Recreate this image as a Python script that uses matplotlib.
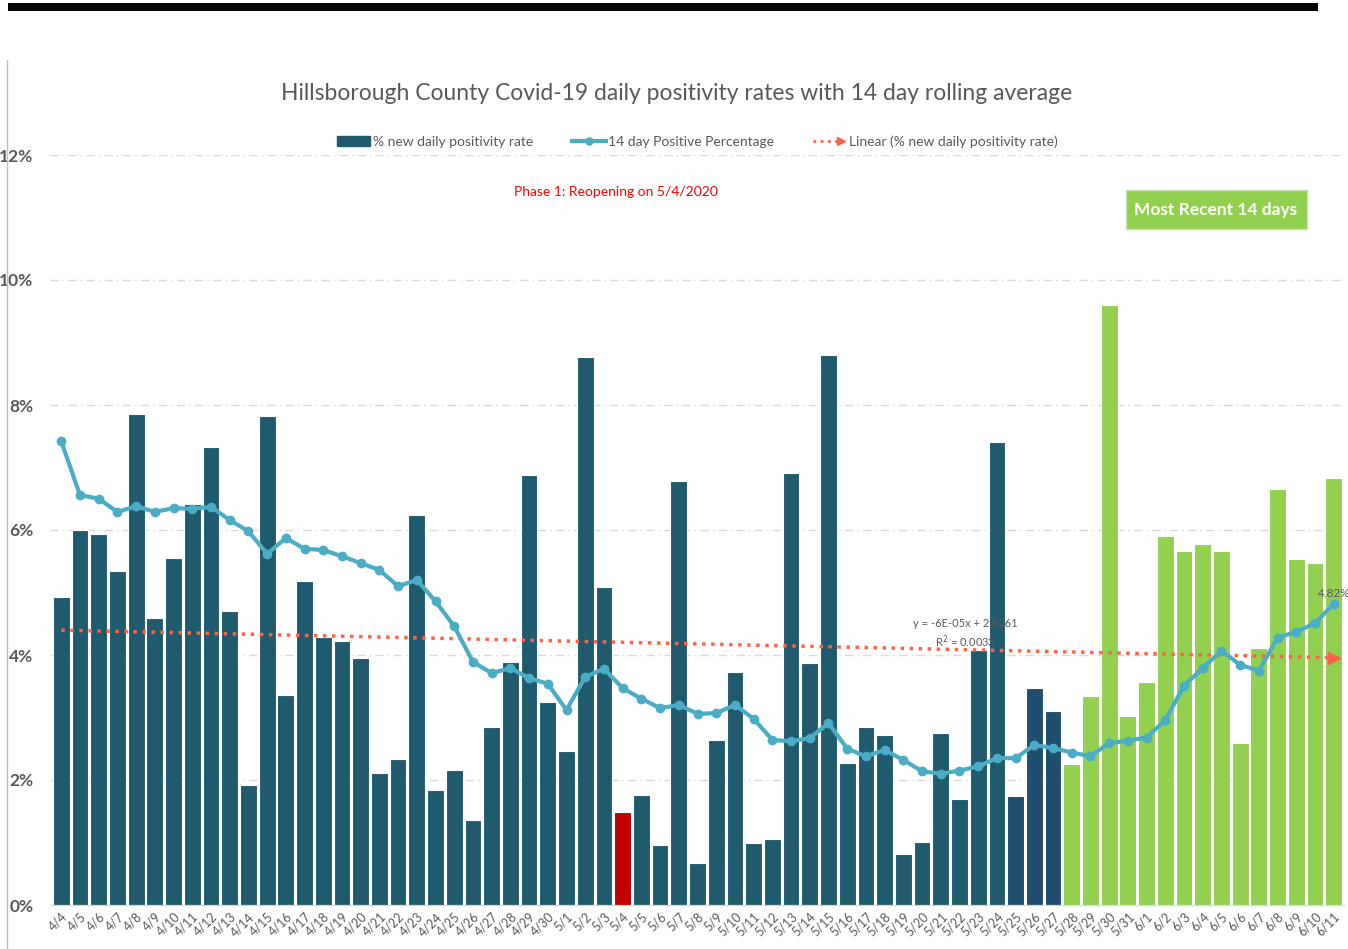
import numpy as np
import pandas as pd
import matplotlib
matplotlib.use("Agg")
import matplotlib.pyplot as plt
from matplotlib import font_manager
from matplotlib.lines import Line2D
from matplotlib.patches import Rectangle
from matplotlib.legend_handler import HandlerBase

# daily % new positivity rate, 4/4 .. 6/11
daily = [4.93, 6.00, 5.94, 5.34, 7.86, 4.59, 5.55, 6.42, 7.33, 4.70,
         1.92, 7.82, 3.36, 5.18, 4.29, 4.22, 3.95, 2.11, 2.34, 6.24,
         1.84, 2.16, 1.36, 2.85, 3.89, 6.88, 3.25, 2.46, 8.77, 5.09,
         1.49, 1.76, 0.96, 6.78, 0.67, 2.64, 3.73, 0.99, 1.06, 6.91,
         3.87, 8.80, 2.27, 2.85, 2.72, 0.81, 1.01, 2.76, 1.69, 4.08,
         7.40, 1.74, 3.47, 3.11, 2.26, 3.35, 9.60, 3.03, 3.57, 5.90,
         5.67, 5.77, 5.66, 2.60, 4.12, 6.66, 5.53, 5.47, 6.84]

# 14 day positive percentage
rolling = [7.42, 6.56, 6.50, 6.29, 6.38, 6.29, 6.35, 6.34, 6.37, 6.16,
           5.98, 5.62, 5.87, 5.70, 5.68, 5.58, 5.47, 5.36, 5.10, 5.20,
           4.86, 4.46, 3.89, 3.71, 3.79, 3.63, 3.54, 3.12, 3.65, 3.78,
           3.47, 3.30, 3.15, 3.20, 3.06, 3.07, 3.20, 2.98, 2.64, 2.62,
           2.67, 2.91, 2.50, 2.38, 2.48, 2.32, 2.14, 2.10, 2.15, 2.22,
           2.35, 2.35, 2.56, 2.51, 2.44, 2.38, 2.59, 2.63, 2.68, 2.96,
           3.51, 3.79, 4.07, 3.84, 3.75, 4.28, 4.37, 4.51, 4.82]

dates = pd.date_range("2020-04-04", "2020-06-11")
labels = [f"{d.month}/{d.day}" for d in dates]
reopen_label = "5/4"
darker_labels = ["5/25", "5/26", "5/27"]
recent_start = "5/28"

# font: prefer a narrow face, like the Calibri look of the original
names = {f.name for f in font_manager.fontManager.ttflist}
for fam in ["Liberation Sans Narrow", "Lato", "DejaVu Sans"]:
    if fam in names:
        plt.rcParams['font.family'] = [fam, 'DejaVu Sans']
        break

gray = '#595959'
c_main = '#1F5A6E'
c_dark = '#1F4E6E'
c_red = '#C00000'
c_green = '#92D050'
c_line = '#4BACC6'
c_trend = '#FF6347'

colors = []
i_recent = labels.index(recent_start)
for i, lab in enumerate(labels):
    if lab == reopen_label:
        colors.append(c_red)
    elif lab in darker_labels:
        colors.append(c_dark)
    elif i >= i_recent:
        colors.append(c_green)
    else:
        colors.append(c_main)

fig = plt.figure(figsize=(13.48, 9.49), dpi=100)
ax = fig.add_axes([50 / 1348, 44 / 949, 1295 / 1348, 750 / 949])

x = np.arange(len(daily))
d = np.array(daily) / 100
r = np.array(rolling) / 100

ax.bar(x, d, width=0.9, color=colors, edgecolor='white', linewidth=0.8, zorder=2)
ax.plot(x, r, color=c_line, lw=3, marker='o', ms=6, zorder=4)

# linear trend of the daily rate
k, b = np.polyfit(x, d, 1)
tx = np.array([0, x[-1]])
ax.plot(tx, k * tx + b, color=c_trend, lw=2.5, ls=(0, (1, 1.6)), zorder=3)
ax.plot(tx[-1], k * tx[-1] + b, marker='>', color=c_trend, ms=8, zorder=3)

ax.text(48.3, 0.0451, "y = -6E-05x + 2.8261", ha='center', va='center', fontsize=8, color=gray, zorder=3)
ax.text(48.3, 0.0422, "R$^2$ = 0.0033", ha='center', va='center', fontsize=8, color=gray, zorder=3)
ax.text(x[-1], r[-1] + 0.0008, f"{rolling[-1]:.2f}%", ha='center', va='bottom', fontsize=8.5, color=gray, zorder=5)

ax.set_xlim(-0.6, len(daily) - 0.4)
ax.set_ylim(0, 0.12)
ax.set_yticks(np.arange(0, 0.121, 0.02))
ax.set_yticklabels([f"{int(v)}%" for v in np.arange(0, 13, 2)], fontsize=12.5, color=gray, fontweight='bold')
ax.set_xticks(x)
ax.set_xticklabels(labels, rotation=45, ha='right', rotation_mode='anchor', fontsize=9, color=gray)
ax.tick_params(axis='both', length=0)
ax.tick_params(axis='y', pad=12)
ax.tick_params(axis='x', pad=4)
ax.grid(axis='y', color='#D9D9D9', ls=(0, (6, 3, 1, 3)), lw=1, zorder=0)
for s in ['top', 'right', 'left']:
    ax.spines[s].set_visible(False)
ax.spines['bottom'].set_color('#D9D9D9')


class ArrowHandler(HandlerBase):
    def create_artists(self, legend, orig, xd, yd, w, h, fs, trans):
        ln = Line2D([xd, xd + w - 6], [yd + h / 2] * 2, color=c_trend, lw=2, ls=(0, (1, 1.6)), transform=trans)
        hd = Line2D([xd + w - 4], [yd + h / 2], marker='>', color=c_trend, ms=6, transform=trans)
        return [ln, hd]


h_bar = Rectangle((0, 0), 1, 1, color=c_main)
h_line = Line2D([], [], color=c_line, lw=3, marker='o', ms=5)
h_trend = Line2D([], [], color=c_trend)
leg = ax.legend([h_bar, h_line, h_trend],
                ["% new daily positivity rate", "14 day Positive Percentage",
                 "Linear (% new daily positivity rate)"],
                handler_map={h_trend: ArrowHandler()},
                loc='center', bbox_to_anchor=(0.5, 1.018), ncol=3, frameon=False,
                fontsize=10, labelcolor=gray, handlelength=2.4, handletextpad=0.2,
                columnspacing=2.8)

fig.text(677 / 1348, 1 - 94 / 949, "Hillsborough County Covid-19 daily positivity rates with 14 day rolling average",
         ha='center', va='center', fontsize=16.5, color=gray)
fig.text(616 / 1348, 1 - 192 / 949, "Phase 1: Reopening on 5/4/2020", ha='center', va='center',
         fontsize=10, color='red')
fig.patches.append(Rectangle((1126 / 1348, 1 - 229 / 949), 181 / 1348, 39 / 949, transform=fig.transFigure,
                             facecolor=c_green, edgecolor='#C6E0B4', lw=1, zorder=5))
fig.text(1216 / 1348, 1 - 210 / 949, "Most Recent 14 days", ha='center', va='center', fontsize=12.5,
         color='white', fontweight='bold', zorder=6)

# black band on top and the left border of the chart area
fig.patches.append(Rectangle((8 / 1348, 1 - 11 / 949), 1310 / 1348, 8 / 949, transform=fig.transFigure,
                             facecolor='black', edgecolor='none'))
fig.lines.append(Line2D([7 / 1348, 7 / 1348], [0, 1 - 60 / 949], transform=fig.transFigure,
                        color='#BFBFBF', lw=1))

fig.savefig("out.png", dpi=100)
